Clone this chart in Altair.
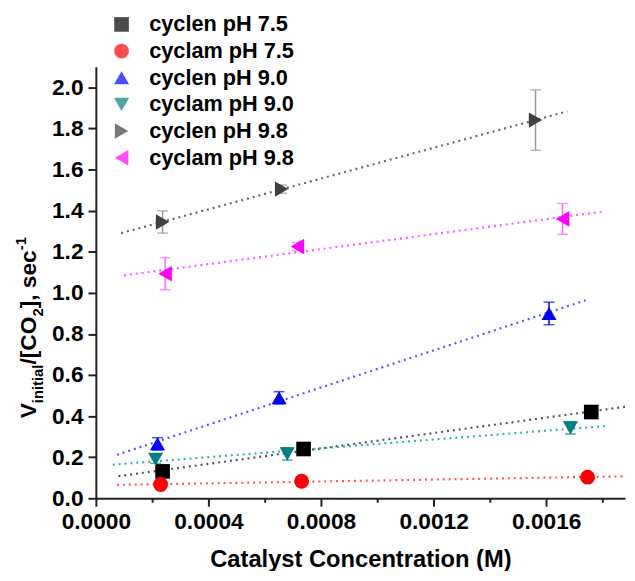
import altair as alt
import numpy as np
import pandas as pd

# ---------------- data ----------------
series_names = ["cyclen pH 7.5", "cyclam pH 7.5", "cyclen pH 9.0",
                "cyclam pH 9.0", "cyclen pH 9.8", "cyclam pH 9.8"]

x_cyclen_75 = [0.000237, 0.000738, 0.00176]
y_cyclen_75 = [0.131, 0.240, 0.420]
e_cyclen_75 = [0.0, 0.0, 0.0]

x_cyclam_75 = [0.000230, 0.000731, 0.001747]
y_cyclam_75 = [0.067, 0.083, 0.103]
e_cyclam_75 = [0.0, 0.0, 0.0]

x_cyclen_90 = [0.000219, 0.000651, 0.001610]
y_cyclen_90 = [0.265, 0.489, 0.900]
e_cyclen_90 = [0.03, 0.03, 0.055]

x_cyclam_90 = [0.000212, 0.000680, 0.001686]
y_cyclam_90 = [0.190, 0.216, 0.343]
e_cyclam_90 = [0.02, 0.03, 0.03]

x_cyclen_98 = [0.000237, 0.000660, 0.001562]
y_cyclen_98 = [1.345, 1.505, 1.841]
e_cyclen_98 = [0.054, 0.02, 0.147]

x_cyclam_98 = [0.000246, 0.000716, 0.001658]
y_cyclam_98 = [1.093, 1.226, 1.360]
e_cyclam_98 = [0.078, 0.02, 0.075]

# x-range over which each linear fit line is drawn
fit_start = [0.00008, 0.000075, 0.000075, 0.00006, 0.00009, 0.0001]
fit_end = [0.0019, 0.0019, 0.00174, 0.00182, 0.001675, 0.0018]

x_ticks = [round(i * 0.0002, 4) for i in range(10)]
y_ticks = [round(i * 0.1, 1) for i in range(22)]

# ---------------- styles ----------------
marker_colors = ["#000000", "#ff0000", "#0000ff", "#008080", "#404040", "#ff00ff"]
marker_shapes = ["square", "circle", "triangle-up", "triangle-down",
                 "triangle-right", "triangle-left"]
marker_sizes = [220, 250, 440, 440, 440, 440]
line_colors = ["#555555", "#ff5555", "#5555ff", "#30b0b0", "#666666", "#ff55ff"]
err_colors = ["#000000", "#ff0000", "#0000ff", "#008080", "#999999", "#ff66ff"]

xs = [x_cyclen_75, x_cyclam_75, x_cyclen_90, x_cyclam_90, x_cyclen_98, x_cyclam_98]
ys = [y_cyclen_75, y_cyclam_75, y_cyclen_90, y_cyclam_90, y_cyclen_98, y_cyclam_98]
es = [e_cyclen_75, e_cyclam_75, e_cyclen_90, e_cyclam_90, e_cyclen_98, e_cyclam_98]

pts_rows, err_rows, fit_rows = [], [], []
for i, name in enumerate(series_names):
    for xv, yv, ev in zip(xs[i], ys[i], es[i]):
        pts_rows.append({"series": name, "x": xv, "y": yv})
        if ev > 0:
            err_rows.append({"series": name, "x": xv, "lo": yv - ev, "hi": yv + ev,
                             "ec": err_colors[i]})
    slope, intercept = np.polyfit(xs[i], ys[i], 1)
    for xf in (fit_start[i], fit_end[i]):
        fit_rows.append({"series": name, "x": xf, "y": slope * xf + intercept,
                         "lc": line_colors[i]})

pts = pd.DataFrame(pts_rows)
errs = pd.DataFrame(err_rows)
fits = pd.DataFrame(fit_rows)

FONT = "Liberation Sans"

x_minor = "abs(datum.value/0.0004 - round(datum.value/0.0004)) > 0.01"
y_minor = "abs(datum.value/0.2 - round(datum.value/0.2)) > 0.01"

x_scale = alt.Scale(domain=[0, 0.00188], nice=False, zero=False)
y_scale = alt.Scale(domain=[0, 2.1], nice=False, zero=False)

x_axis = alt.Axis(values=x_ticks, format=".4f",
                  labelExpr=f"({x_minor}) ? '' : datum.label",
                  tickSize={"condition": {"test": x_minor, "value": 4}, "value": 8},
                  grid=False, domainWidth=2, tickWidth=2, domainColor="#222222",
                  tickColor="#222222", labelColor="#000000", labelFont=FONT,
                  labelFontSize=23, labelFontWeight="bold", labelPadding=5,
                  labelFlush=False, labelOverlap=False,
                  title="Catalyst Concentration (M)", titleFont=FONT,
                  titleFontSize=24, titleFontWeight="bold", titleColor="#000000",
                  titlePadding=14)
y_axis = alt.Axis(values=y_ticks, format=".1f",
                  labelExpr=f"({y_minor}) ? '' : datum.label",
                  tickSize={"condition": {"test": y_minor, "value": 4}, "value": 8},
                  grid=False, domainWidth=2, tickWidth=2, domainColor="#222222",
                  tickColor="#222222", labelColor="#000000", labelFont=FONT,
                  labelFontSize=23, labelFontWeight="bold", labelPadding=5,
                  labelOverlap=False, title="")

X = alt.X("x:Q", scale=x_scale, axis=x_axis)
Y = alt.Y("y:Q", scale=y_scale, axis=y_axis)

legend = alt.Legend(orient="none", legendX=15, legendY=-54, title=None,
                    labelFont=FONT, labelFontSize=22, labelFontWeight="bold",
                    labelColor="#000000", rowPadding=5, labelOffset=17, padding=0,
                    symbolOpacity=1, symbolStrokeWidth=0)

lines = alt.Chart(fits).mark_line(strokeDash=[2, 4], strokeWidth=2.2, clip=True).encode(
    x=X, y=Y, detail="series:N", color=alt.Color("lc:N", scale=None))

rules = alt.Chart(errs).mark_rule(strokeWidth=1.5).encode(
    x="x:Q", y="lo:Q", y2="hi:Q", color=alt.Color("ec:N", scale=None))
cap_lo = alt.Chart(errs).mark_tick(orient="horizontal", size=11, thickness=1.5).encode(
    x="x:Q", y="lo:Q", color=alt.Color("ec:N", scale=None))
cap_hi = alt.Chart(errs).mark_tick(orient="horizontal", size=11, thickness=1.5).encode(
    x="x:Q", y="hi:Q", color=alt.Color("ec:N", scale=None))

points = alt.Chart(pts).mark_point(filled=True, opacity=1).encode(
    x=X, y=Y,
    color=alt.Color("series:N", scale=alt.Scale(domain=series_names, range=marker_colors),
                    legend=legend),
    shape=alt.Shape("series:N", scale=alt.Scale(domain=series_names, range=marker_shapes),
                    legend=legend),
    size=alt.Size("series:N", scale=alt.Scale(domain=series_names, range=marker_sizes),
                  legend=legend))

# y-axis title with sub/superscripts, built from text pieces
adv = {'V': 667, 'i': 278, 'n': 611, 't': 333, 'a': 556, 'l': 278, '/': 278, '[': 333,
       'C': 722, 'O': 778, '2': 556, ']': 333, ',': 278, ' ': 278, 's': 556, 'e': 556,
       'c': 556, '-': 333, '1': 556}
parts = [("V", 23, 0), ("initial", 15, 7), ("/[CO", 23, 0), ("2", 15, 7),
         ("], sec", 23, 0), ("-1", 15, -10)]
base_x, pos_y = -61, 356
title_layers = []
for txt, fs, shift in parts:
    title_layers.append(
        alt.Chart(pd.DataFrame({"t": [txt]})).mark_text(
            angle=270, align="left", baseline="alphabetic", font=FONT, fontSize=fs,
            fontWeight="bold", color="#000000").encode(
            x=alt.value(base_x + shift), y=alt.value(pos_y), text="t:N"))
    pos_y -= sum(adv[ch] for ch in txt) * fs / 1000.0

chart = alt.layer(lines, rules, cap_lo, cap_hi, points, *title_layers).properties(
    width=536, height=437,
    autosize=alt.AutoSizeParams(type="none"),
    padding={"left": 89, "top": 56, "right": 2, "bottom": 70},
).configure_view(strokeWidth=0)

chart.save("out.html", embed_options={"renderer": "svg", "actions": False})
